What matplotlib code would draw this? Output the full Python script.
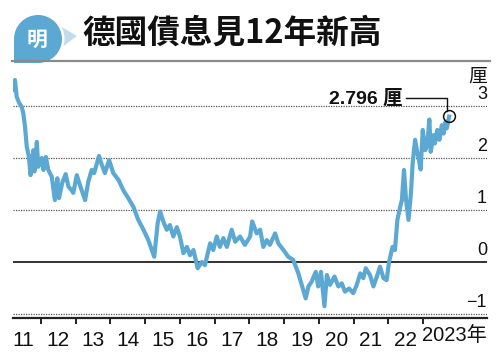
"""
德國10年期債息走勢圖
"""

import numpy as np
from matplotlib import pyplot as plt
from matplotlib import patches
from matplotlib.lines import Line2D
import matplotlib.transforms as mtransforms

# 數據 (年份以小數表示, 債息 %)
anios = [2011.17, 2011.25, 2011.30, 2011.37, 2011.44, 2011.49, 2011.54, 2011.59, 2011.65, 2011.70,
         2011.78, 2011.81, 2011.88, 2011.92, 2012.02, 2012.07, 2012.14, 2012.21, 2012.31, 2012.40,
         2012.47, 2012.52, 2012.61, 2012.71, 2012.79, 2012.88, 2012.93, 2013.03, 2013.12, 2013.27,
         2013.36, 2013.46, 2013.53, 2013.67, 2013.75, 2013.84, 2013.96, 2014.08, 2014.23, 2014.37,
         2014.51, 2014.66, 2014.80, 2014.95, 2015.09, 2015.26, 2015.36, 2015.43, 2015.52, 2015.62,
         2015.71, 2015.81, 2015.91, 2016.00, 2016.10, 2016.20, 2016.29, 2016.39, 2016.51, 2016.63,
         2016.72, 2016.87, 2016.96, 2017.06, 2017.15, 2017.25, 2017.35, 2017.49, 2017.59, 2017.73,
         2017.87, 2018.02, 2018.08, 2018.21, 2018.31, 2018.40, 2018.50, 2018.59, 2018.74, 2018.83,
         2018.98, 2019.12, 2019.26, 2019.41, 2019.52, 2019.62, 2019.70, 2019.79, 2019.91, 2019.98,
         2020.06, 2020.16, 2020.23, 2020.32, 2020.45, 2020.56, 2020.66, 2020.75, 2020.87, 2020.99,
         2021.09, 2021.19, 2021.28, 2021.35, 2021.47, 2021.57, 2021.67, 2021.76, 2021.86, 2021.95,
         2022.02, 2022.12, 2022.19, 2022.26, 2022.34, 2022.39, 2022.45, 2022.51, 2022.58, 2022.65,
         2022.70, 2022.77, 2022.82, 2022.86, 2022.93, 2022.99, 2023.06, 2023.12, 2023.18, 2023.22,
         2023.30, 2023.34, 2023.41, 2023.47, 2023.54, 2023.59, 2023.65, 2023.68, 2023.75]
rendimiento = [3.31, 3.50, 3.18, 3.06, 2.99, 2.86, 2.60, 2.22, 2.03, 1.67,
               2.15, 1.74, 2.31, 1.83, 2.00, 1.77, 2.02, 1.77, 1.64, 1.19,
               1.61, 1.23, 1.52, 1.69, 1.45, 1.38, 1.33, 1.67, 1.48, 1.19,
               1.54, 1.77, 1.71, 2.04, 1.87, 1.71, 1.96, 1.71, 1.58, 1.38,
               1.23, 1.06, 0.81, 0.62, 0.42, 0.10, 0.75, 0.97, 0.78, 0.62,
               0.71, 0.49, 0.67, 0.49, 0.17, 0.29, 0.13, 0.23, -0.12, 0.00,
               -0.06, 0.36, 0.23, 0.49, 0.29, 0.46, 0.29, 0.62, 0.39, 0.49,
               0.33, 0.49, 0.78, 0.55, 0.62, 0.29, 0.42, 0.33, 0.55, 0.36,
               0.23, 0.10, 0.04, -0.22, -0.47, -0.70, -0.47, -0.38, -0.19, -0.47,
               -0.19, -0.85, -0.25, -0.44, -0.28, -0.47, -0.41, -0.57, -0.51, -0.60,
               -0.44, -0.22, -0.31, -0.12, -0.25, -0.47, -0.28, -0.09, -0.31, -0.35,
               0.00, 0.29, 0.23, 0.81, 1.06, 1.19, 1.77, 1.19, 0.81, 1.32,
               1.90, 2.35, 2.15, 2.03, 1.78, 2.54, 2.15, 2.25, 2.74, 2.12,
               2.44, 2.28, 2.54, 2.35, 2.63, 2.47, 2.70, 2.57, 2.796]

anios_ticks = [2012, 2013, 2014, 2015, 2016, 2017, 2018, 2019, 2020, 2021, 2022, 2023]
etiquetas_x = ['11', '12', '13', '14', '15', '16', '17', '18', '19', '20', '21', '22']
niveles_y = [3, 2, 1, 0, -1]
etiquetas_y = ['3', '2', '1', '0', '\u22121']

titulo = '德國債息見12年新高'
ultimo = '2.796 厘'

azul = '#5ba8d3'
fuente_num = ['Liberation Sans Narrow', 'Liberation Sans', 'Noto Sans CJK TC']
fuente_cjk = ['Noto Sans CJK TC', 'DejaVu Sans']

# Figura
fig = plt.figure(figsize=(5, 3.57), dpi=100)
ax = fig.add_axes([0.026, 0.10924, 0.948, 0.69468])
ax.set_xlim(2011.194, 2024.84)
ax.set_ylim(-1.077, 3.692)

# Lineas de referencia
for v in niveles_y:
    if v == 0:
        ax.axhline(v, color='#222222', lw=1.3, zorder=1)
    else:
        ax.axhline(v, color='#555555', lw=0.9, ls=(0, (1, 1)), zorder=1)

# Serie
ax.plot(anios, rendimiento, color=azul, lw=3.0, solid_joinstyle='round', zorder=3)

# Marca del ultimo dato
x_fin, y_fin = anios[-1], rendimiento[-1]
ax.plot(x_fin, y_fin + 0.02, 'o', mfc='none', mec='#111111', mew=1.1, ms=8.5, zorder=4)
ax.plot([x_fin - 1.25, x_fin - 0.05, x_fin - 0.05], [3.148, 3.148, 2.90],
        color='#111111', lw=1.0, zorder=4)
ax.text(x_fin - 1.34, 3.148, ultimo, ha='right', va='center', fontsize=14,
        fontweight='bold', family=['Liberation Sans', 'Noto Sans CJK TC'], color='#111111')

# Etiquetas eje y (a la derecha, sobre las lineas)
trans = mtransforms.blended_transform_factory(ax.transAxes, ax.transData)
for v, lab in zip(niveles_y, etiquetas_y):
    ax.text(1.0, v + 0.06, lab, transform=trans, ha='right', va='bottom',
            fontsize=13, family=fuente_num, color='#111111')
ax.text(0.981, 0.976, '厘', transform=ax.transAxes, ha='center', va='center',
        fontsize=13.5, family=fuente_cjk, color='#111111')

# Eje x
for lado in ['top', 'right', 'left']:
    ax.spines[lado].set_visible(False)
ax.spines['bottom'].set_color('#222222')
ax.spines['bottom'].set_linewidth(1.6)
ax.set_yticks([])
ax.set_xticks(anios_ticks)
ax.set_xticklabels([])
ax.tick_params(axis='x', which='major', direction='out', length=4.5, width=1.4, color='#222222')
ax.set_xticks([a - 0.5 for a in anios_ticks], minor=True)
ax.set_xticklabels(etiquetas_x, minor=True)
ax.tick_params(axis='x', which='minor', length=0, pad=9, labelsize=15)
for t in ax.get_xticklabels(minor=True):
    t.set_family(fuente_num)
    t.set_color('#111111')
ax.text(1.0, -0.07, '2023年', transform=ax.transAxes, ha='right', va='center',
        fontsize=14.5, family=fuente_num, color='#111111')

# Titulo
fig.text(0.164, 0.9076, titulo, ha='left', va='center', fontsize=23.5,
         fontweight='bold', family=fuente_cjk, color='#111111')
fig.add_artist(Line2D([12 / 500, 490 / 500], [1 - 61 / 357, 1 - 61 / 357],
                      color='#8a8a8a', lw=1.6))

# Logo
lx = fig.add_axes([0, 1 - 70 / 357, 90 / 500, 70 / 357])
lx.set_xlim(0, 90)
lx.set_ylim(70, 0)
lx.axis('off')
lx.add_patch(patches.Polygon([(50, 20), (77, 36), (50, 56)], closed=True,
                             color='#c3dbea', lw=0))
lx.add_patch(patches.Circle((38, 39), 26.5, color='white', lw=0))
lx.add_patch(patches.Circle((38, 39), 24, color=azul, lw=0))
lx.add_patch(patches.Rectangle((14, 39), 24, 24, color=azul, lw=0))
lx.text(37, 39, '明', ha='center', va='center', fontsize=15, fontweight='bold',
        family=fuente_cjk, color='white', style='italic')

plt.savefig('out.png', dpi=100)
